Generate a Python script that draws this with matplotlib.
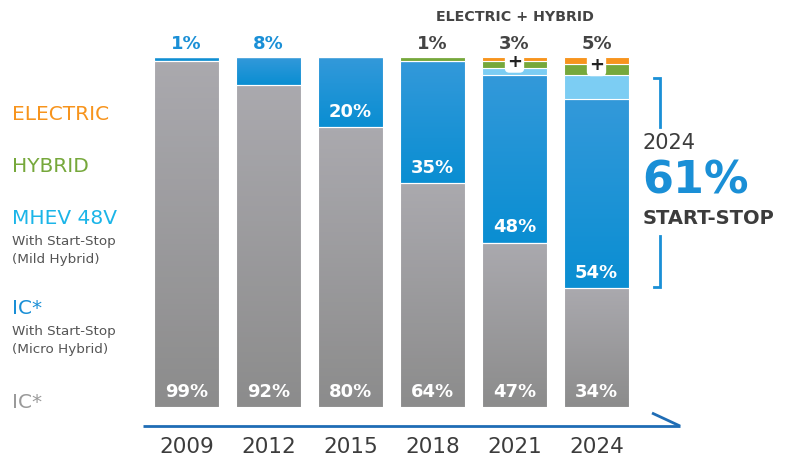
import matplotlib
matplotlib.use("Agg")
import matplotlib.pyplot as plt
import numpy as np
from matplotlib.colors import LinearSegmentedColormap

years = ["2009", "2012", "2015", "2018", "2021", "2024"]
ic = [99, 92, 80, 64, 47, 34]
ic_ss = [1, 8, 20, 35, 48, 54]
mhev = [0, 0, 0, 0, 2, 7]
hybrid = [0, 0, 0, 1, 2, 3]
electric = [0, 0, 0, 0, 1, 2]
top_labels = ["1%", "8%", "", "1%", "3%", "5%"]
top_label_colors = ["#1a8fd6", "#1a8fd6", "#1a8fd6", "#444444", "#444444", "#444444"]
ic_labels = ["99%", "92%", "80%", "64%", "47%", "34%"]
ss_labels = ["", "", "20%", "35%", "48%", "54%"]
plus_marks = [False, False, False, False, True, True]

W, H = 798, 459
fig = plt.figure(figsize=(W / 100, H / 100), dpi=100)
fig.patch.set_facecolor("white")

# overlay axes in pixel coordinates for decorations
ov = fig.add_axes([0, 0, 1, 1])
ov.set_xlim(0, W)
ov.set_ylim(H, 0)
ov.axis("off")

# bar axes
x0, x1, ytop, ybot = 145.5, 637.5, 57, 407
ax = fig.add_axes([x0 / W, (H - ybot) / H, (x1 - x0) / W, (ybot - ytop) / H])
ax.set_xlim(-0.5, 5.5)
ax.set_ylim(0, 100)
ax.axis("off")
ax.patch.set_alpha(0)

x = np.arange(len(years))
bw = 0.79

def grad_bar(xs, bottoms, heights, c_top, c_bot):
    bars = ax.bar(xs, heights, bw, bottom=bottoms, color=c_bot, edgecolor="white", linewidth=0.8, zorder=2)
    cmap = LinearSegmentedColormap.from_list("g", [c_bot, c_top])
    for b, h in zip(bars, heights):
        if h <= 0:
            continue
        bx, by = b.get_x(), b.get_y()
        grad = np.linspace(0, 1, 64).reshape(-1, 1)
        im = ax.imshow(grad, cmap=cmap, aspect="auto", origin="lower",
                       extent=[bx, bx + b.get_width(), by, by + h], zorder=2.5)
        im.set_clip_path(b)
        ax.bar(bx + b.get_width() / 2, h, bw, bottom=by, facecolor="none", edgecolor="white", linewidth=0.8, zorder=3)
    return bars

b0 = np.zeros(len(years))
grad_bar(x, b0, ic, "#aaa9ae", "#8c8c8c")
b1 = b0 + np.array(ic)
grad_bar(x, b1, ic_ss, "#3399da", "#0a8ed2")
b2 = b1 + np.array(ic_ss)
ax.bar(x, mhev, bw, bottom=b2, color="#7ccdf3", edgecolor="white", linewidth=0.8, zorder=3)
b3 = b2 + np.array(mhev)
ax.bar(x, hybrid, bw, bottom=b3, color="#76a83b", edgecolor="white", linewidth=0.8, zorder=3)
b4 = b3 + np.array(hybrid)
ax.bar(x, electric, bw, bottom=b4, color="#f7941d", edgecolor="white", linewidth=0.8, zorder=3)
ax.set_xlim(-0.5, 5.5)
ax.set_ylim(0, 100)

lab_font = dict(family="DejaVu Sans", fontweight="bold")
for i in range(len(years)):
    ax.text(x[i], 4.3, ic_labels[i], ha="center", va="center", color="white", fontsize=13, zorder=5, **lab_font)
    if ss_labels[i]:
        ax.text(x[i], b1[i] + 4.3, ss_labels[i], ha="center", va="center", color="white", fontsize=13, zorder=5, **lab_font)
    if top_labels[i]:
        ax.text(x[i], 103.8, top_labels[i], ha="center", va="center", color=top_label_colors[i],
                fontsize=13, clip_on=False, zorder=5, **lab_font)
    if plus_marks[i]:
        ax.text(x[i], b4[i] - 0.3, "+", ha="center", va="center", color="#222222", fontsize=13,
                fontweight="bold", zorder=6, family="DejaVu Sans",
                bbox=dict(boxstyle="round,pad=0.12,rounding_size=0.25", fc="white", ec="none"))

ax.text(4.0, 111.3, "ELECTRIC + HYBRID", ha="center", va="center", color="#444444", fontsize=10.3,
        clip_on=False, **lab_font)

# x axis line + arrow
ov.plot([143, 680], [426, 426], color="#1f6db5", lw=2, solid_capstyle="butt")
ov.plot([652, 680], [413, 426], color="#1f6db5", lw=2, solid_capstyle="butt")
for i, yl in enumerate(years):
    xp = x0 + (x[i] + 0.5) * (x1 - x0) / 6
    ov.text(xp, 447, yl, ha="center", va="center", fontsize=15.5, color="#3c3c3c", family="DejaVu Sans")

# left legend
leg_kw = dict(ha="left", va="center", family="DejaVu Sans")
ov.text(12, 114, "ELECTRIC", fontsize=14.5, color="#f7941d", **leg_kw)
ov.text(12, 166, "HYBRID", fontsize=14.5, color="#76a83b", **leg_kw)
ov.text(12, 218, "MHEV 48V", fontsize=14.5, color="#1bb5e8", **leg_kw)
ov.text(12, 241, "With Start-Stop", fontsize=9.7, color="#555555", **leg_kw)
ov.text(12, 260, "(Mild Hybrid)", fontsize=9.7, color="#555555", **leg_kw)
ov.text(12, 309, "IC*", fontsize=14.5, color="#1a8fd6", **leg_kw)
ov.text(12, 331, "With Start-Stop", fontsize=9.7, color="#555555", **leg_kw)
ov.text(12, 350, "(Micro Hybrid)", fontsize=9.7, color="#555555", **leg_kw)
ov.text(12, 402, "IC*", fontsize=14.5, color="#9a9a9a", **leg_kw)

# right bracket + callout
bc = "#1a8fd6"
ov.plot([654, 660, 660], [78, 78, 127], color=bc, lw=2, solid_joinstyle="miter")
ov.plot([660, 660, 654], [236, 287, 287], color=bc, lw=2, solid_joinstyle="miter")
ov.text(643, 143, "2024", ha="left", va="center", fontsize=15, color="#3c3c3c", family="DejaVu Sans")
ov.text(642, 181, "61%", ha="left", va="center", fontsize=32, color="#1a8fd6", **lab_font)
ov.text(643, 218, "START-STOP", ha="left", va="center", fontsize=14, color="#3c3c3c", **lab_font)

fig.savefig("out.png", dpi=100, facecolor="white")
